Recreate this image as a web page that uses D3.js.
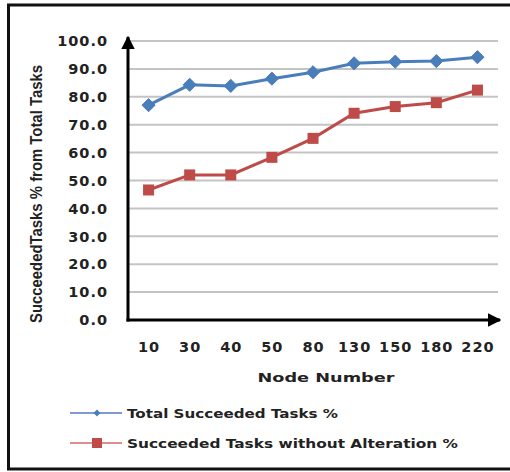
<!DOCTYPE html>
<html>
<head>
<meta charset="utf-8">
<script src="https://cdn.jsdelivr.net/npm/d3@7/dist/d3.min.js"></script>
<style>
  html, body { margin: 0; padding: 0; background: #fff; }
  svg { display: block; }
  .tick-label { font-family: "DejaVu Sans", Verdana, sans-serif; font-weight: bold; font-size: 14.5px; letter-spacing: 1px; fill: #222; }
  .axis-title { font-family: "DejaVu Sans", sans-serif; font-weight: bold; font-size: 13px; fill: #222; }
  .legend-text { font-family: "DejaVu Sans", sans-serif; font-weight: bold; font-size: 12.5px; fill: #222; }
</style>
</head>
<body>
<script>
// Node counts on the x axis
const nodeNumbers = ["10", "30", "40", "50", "80", "130", "150", "180", "220"];
// Percentage of all tasks that succeeded
const totalSucceeded = [77.0, 84.3, 83.9, 86.5, 88.8, 92.0, 92.6, 92.8, 94.2];
// Percentage of tasks that succeeded without alteration
const succeededNoAlteration = [46.6, 52.0, 52.0, 58.3, 65.1, 74.1, 76.5, 77.9, 82.4];
// Y axis tick values
const yTicks = [0, 10, 20, 30, 40, 50, 60, 70, 80, 90, 100];

const seriesNames = ["Total Succeeded Tasks %", "Succeeded Tasks without Alteration %"];

const W = 510, H = 472;
const svg = d3.select("body").append("svg").attr("width", W).attr("height", H);

// Frame around the figure (no right edge)
svg.append("path")
  .attr("d", "M 510 5 L 8.5 5 L 8.5 469 L 510 469")
  .attr("fill", "none").attr("stroke", "#111").attr("stroke-width", 3);

const plotLeft = 128, plotRight = 498, plotTop = 41, plotBottom = 320;

const x = d3.scalePoint().domain(nodeNumbers).range([plotLeft, plotRight]).padding(0.5);
const y = d3.scaleLinear().domain([0, 100]).range([plotBottom, plotTop]);

// Horizontal gridlines
svg.append("g").selectAll("line")
  .data(yTicks.filter(d => d > 0))
  .join("line")
  .attr("x1", plotLeft).attr("x2", plotRight)
  .attr("y1", d => y(d)).attr("y2", d => y(d))
  .attr("stroke", "#c4c4c4").attr("stroke-width", 2);

// Y axis tick labels
svg.append("g").selectAll("text")
  .data(yTicks)
  .join("text")
  .attr("class", "tick-label")
  .attr("x", 108).attr("y", d => y(d))
  .attr("dy", "0.36em")
  .attr("text-anchor", "end")
  .text(d => d.toFixed(1));

// X axis tick labels
svg.append("g").selectAll("text")
  .data(nodeNumbers)
  .join("text")
  .attr("class", "tick-label")
  .attr("x", d => x(d) + 0.5).attr("y", 347)
  .attr("dy", "0.36em")
  .attr("text-anchor", "middle")
  .text(d => d);

// Arrowheads for the axes
const defs = svg.append("defs");
defs.append("marker")
  .attr("id", "arrow")
  .attr("viewBox", "0 0 10 10")
  .attr("refX", 9).attr("refY", 5)
  .attr("markerWidth", 4.5).attr("markerHeight", 4.5)
  .attr("markerUnits", "strokeWidth")
  .attr("orient", "auto")
  .append("path").attr("d", "M0,0 L10,5 L0,10 z").attr("fill", "#000");

// Y axis with arrow
svg.append("line")
  .attr("x1", plotLeft).attr("x2", plotLeft)
  .attr("y1", y(0) + 1.5).attr("y2", plotTop - 4)
  .attr("stroke", "#000").attr("stroke-width", 3)
  .attr("marker-end", "url(#arrow)");

// X axis with arrow
svg.append("line")
  .attr("x1", plotLeft - 1.5).attr("x2", plotRight + 2)
  .attr("y1", y(0)).attr("y2", y(0))
  .attr("stroke", "#000").attr("stroke-width", 3)
  .attr("marker-end", "url(#arrow)");

// Axis titles
svg.append("text")
  .attr("class", "axis-title")
  .attr("x", 326).attr("y", 377)
  .attr("dy", "0.36em")
  .attr("text-anchor", "middle")
  .attr("textLength", 137)
  .attr("lengthAdjust", "spacingAndGlyphs")
  .text("Node Number");

svg.append("text")
  .attr("class", "axis-title")
  .attr("transform", "translate(42,194) rotate(-90)")
  .attr("text-anchor", "middle")
  .attr("textLength", 258)
  .attr("lengthAdjust", "spacingAndGlyphs")
  .style("font-family", "'Liberation Sans Narrow', 'Liberation Sans', sans-serif")
  .style("font-size", "16px")
  .text("SucceededTasks % from Total Tasks");

const blue = "#4a7ebb", red = "#be4b48";

const line = d3.line().x((d, i) => x(nodeNumbers[i])).y(d => y(d));

// Total succeeded series
svg.append("path").datum(totalSucceeded)
  .attr("d", line).attr("fill", "none")
  .attr("stroke", blue).attr("stroke-width", 3);
svg.append("g").selectAll("path")
  .data(totalSucceeded)
  .join("path")
  .attr("transform", (d, i) => `translate(${x(nodeNumbers[i])},${y(d)})`)
  .attr("d", d3.symbol(d3.symbolDiamond2, 110))
  .attr("fill", blue).attr("stroke", blue).attr("stroke-width", 1);

// Succeeded without alteration series
svg.append("path").datum(succeededNoAlteration)
  .attr("d", line).attr("fill", "none")
  .attr("stroke", red).attr("stroke-width", 3);
svg.append("g").selectAll("rect")
  .data(succeededNoAlteration)
  .join("rect")
  .attr("x", (d, i) => x(nodeNumbers[i]) - 5.5)
  .attr("y", d => y(d) - 5.5)
  .attr("width", 11).attr("height", 11)
  .attr("fill", red);

// Legend
const legend = svg.append("g");
const legendRows = [
  { name: seriesNames[0], y: 413, lineColor: "#7f98d6", markColor: blue, shape: "diamond", width: 211 },
  { name: seriesNames[1], y: 443, lineColor: "#dc8f8d", markColor: red, shape: "square", width: 331 }
];
legendRows.forEach(r => {
  legend.append("line")
    .attr("x1", 70).attr("x2", 122)
    .attr("y1", r.y).attr("y2", r.y)
    .attr("stroke", r.lineColor).attr("stroke-width", 2);
  if (r.shape === "diamond") {
    legend.append("path")
      .attr("transform", `translate(97,${r.y})`)
      .attr("d", d3.symbol(d3.symbolDiamond2, 30))
      .attr("fill", r.markColor);
  } else {
    legend.append("rect")
      .attr("x", 92).attr("y", r.y - 5)
      .attr("width", 10).attr("height", 10)
      .attr("fill", r.markColor);
  }
  legend.append("text")
    .attr("class", "legend-text")
    .attr("x", 127).attr("y", r.y)
    .attr("dy", "0.36em")
    .attr("textLength", r.width)
    .attr("lengthAdjust", "spacingAndGlyphs")
    .text(r.name);
});
</script>
</body>
</html>
